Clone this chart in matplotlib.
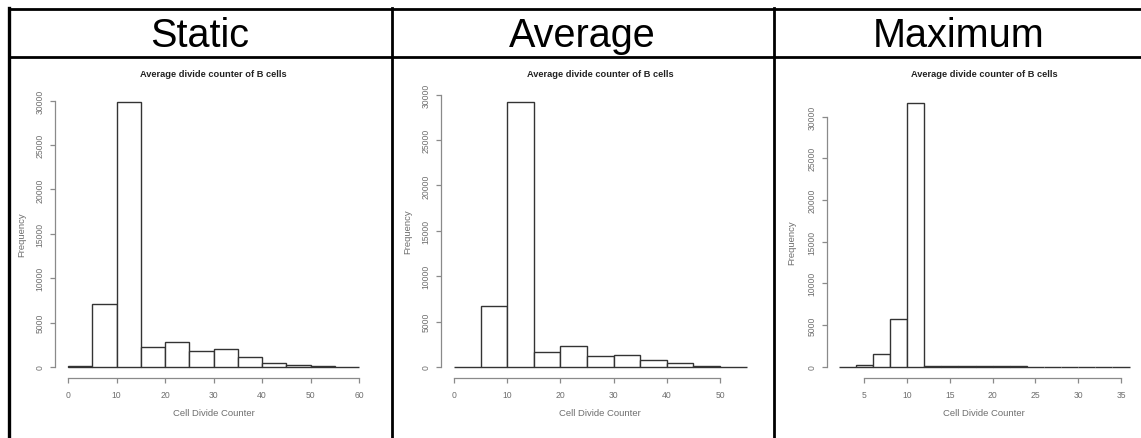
import numpy as np
import matplotlib
matplotlib.use("Agg")
import matplotlib.pyplot as plt
from matplotlib.lines import Line2D

plt.rcParams['font.family'] = ['Liberation Sans', 'DejaVu Sans']

# ------------------------
# Data
# ------------------------
headers = ["Static", "Average", "Maximum"]
plot_title = "Average divide counter of B cells"
x_label = "Cell Divide Counter"
y_label = "Frequency"

static_edges = np.arange(0, 61, 5)
static_counts = [60, 7150, 29800, 2200, 2850, 1830, 2000, 1130, 480, 200, 80, 20]

average_edges = np.arange(0, 56, 5)
average_counts = [50, 6700, 29150, 1620, 2280, 1250, 1320, 740, 470, 80, 10]

maximum_edges = np.arange(2, 37, 2)
maximum_counts = [0, 220, 1480, 5700, 31700, 60, 40, 40, 30, 30, 100, 20, 10, 5, 5, 5, 5]

y_ticks = [0, 5000, 10000, 15000, 20000, 25000, 30000]
static_xticks = [0, 10, 20, 30, 40, 50, 60]
average_xticks = [0, 10, 20, 30, 40, 50]
maximum_xticks = [5, 10, 15, 20, 25, 30, 35]

# ------------------------
# Figure in pixel units
# ------------------------
W, H = 1141, 439
DPI = 100
fig = plt.figure(figsize=(W / DPI, H / DPI), dpi=DPI)
fig.patch.set_facecolor("white")


def px_axes(left, right, top, bottom):
    # pixel box (from top-left) -> figure fraction
    return fig.add_axes([left / W, 1 - bottom / H, (right - left) / W, (bottom - top) / H])


def fig_line(xs, ys, lw=2.0):
    fig.add_artist(Line2D([x / W for x in xs], [1 - y / H for y in ys],
                          color="black", lw=lw, transform=fig.transFigure))


# table borders
fig_line([9, W], [9.5, 9.5])
fig_line([9, W], [58, 58])
fig_line([9, 9], [9, H], lw=2.4)
fig_line([391.5, 391.5], [9, H])
fig_line([774, 774], [9, H])

# column headers
for name, cx in zip(headers, [200, 582, 959]):
    fig.text(cx / W, 1 - 47 / H, name, ha="center", va="baseline", fontsize=28.5)

AX_GRAY = "#8a8a8a"
TXT_GRAY = "#6e6e6e"
BAR_EDGE = "#333333"

panels = [
    # edges, counts, xticks, xlim, pixel box (left, right, y=30000, y=0), y-axis offset
    (static_edges, static_counts, static_xticks, (0, 60), (68, 359, 101.6, 368), 13),
    (average_edges, average_counts, average_xticks, (0, 55), (454, 746.6, 95.6, 368), 13),
    (maximum_edges, maximum_counts, maximum_xticks, (2, 36), (838.6, 1129.6, 117.7, 367.7), 11.6),
]

for edges, counts, xticks, xlim, box, yoff in panels:
    left, right, top, bottom = box
    ax = px_axes(left, right, top, bottom)
    ax.set_xlim(*xlim)
    ax.set_ylim(0, 30000)
    ax.patch.set_alpha(0)

    widths = np.diff(edges)
    ax.bar(edges[:-1], counts, width=widths, align="edge", facecolor="white",
           edgecolor=BAR_EDGE, linewidth=1.0, clip_on=False)

    # R style axes
    for s in ["top", "right"]:
        ax.spines[s].set_visible(False)
    ax.spines["left"].set_position(("outward", yoff * 72 / DPI))
    ax.spines["bottom"].set_position(("outward", 11 * 72 / DPI))
    ax.spines["left"].set_bounds(0, 30000)
    ax.spines["bottom"].set_bounds(xticks[0], xticks[-1])
    for s in ["left", "bottom"]:
        ax.spines[s].set_color(AX_GRAY)
        ax.spines[s].set_linewidth(0.9)

    ax.set_yticks(y_ticks)
    ax.set_yticklabels([str(v) for v in y_ticks], rotation=90, va="center")
    ax.set_xticks(xticks)
    ax.set_xticklabels([str(v) for v in xticks])
    ax.tick_params(axis="both", colors=AX_GRAY, labelcolor=TXT_GRAY, labelsize=6.2,
                   length=3.5, width=0.9, pad=4)
    ax.tick_params(axis="x", pad=5.5)

    ax.set_title(plot_title, fontsize=6.7, fontweight="bold", color="#222222",
                 pad=(top - 77) * 72 / DPI)
    ax.set_xlabel(x_label, fontsize=6.8, color=TXT_GRAY)
    ax.xaxis.set_label_coords(0.5, -(409 - bottom) / (bottom - top))
    ax.set_ylabel(y_label, fontsize=6.8, color=TXT_GRAY)
    ax.yaxis.set_label_coords(-42 / (right - left), 0.5)

fig.savefig("out.png", dpi=DPI, facecolor="white")
